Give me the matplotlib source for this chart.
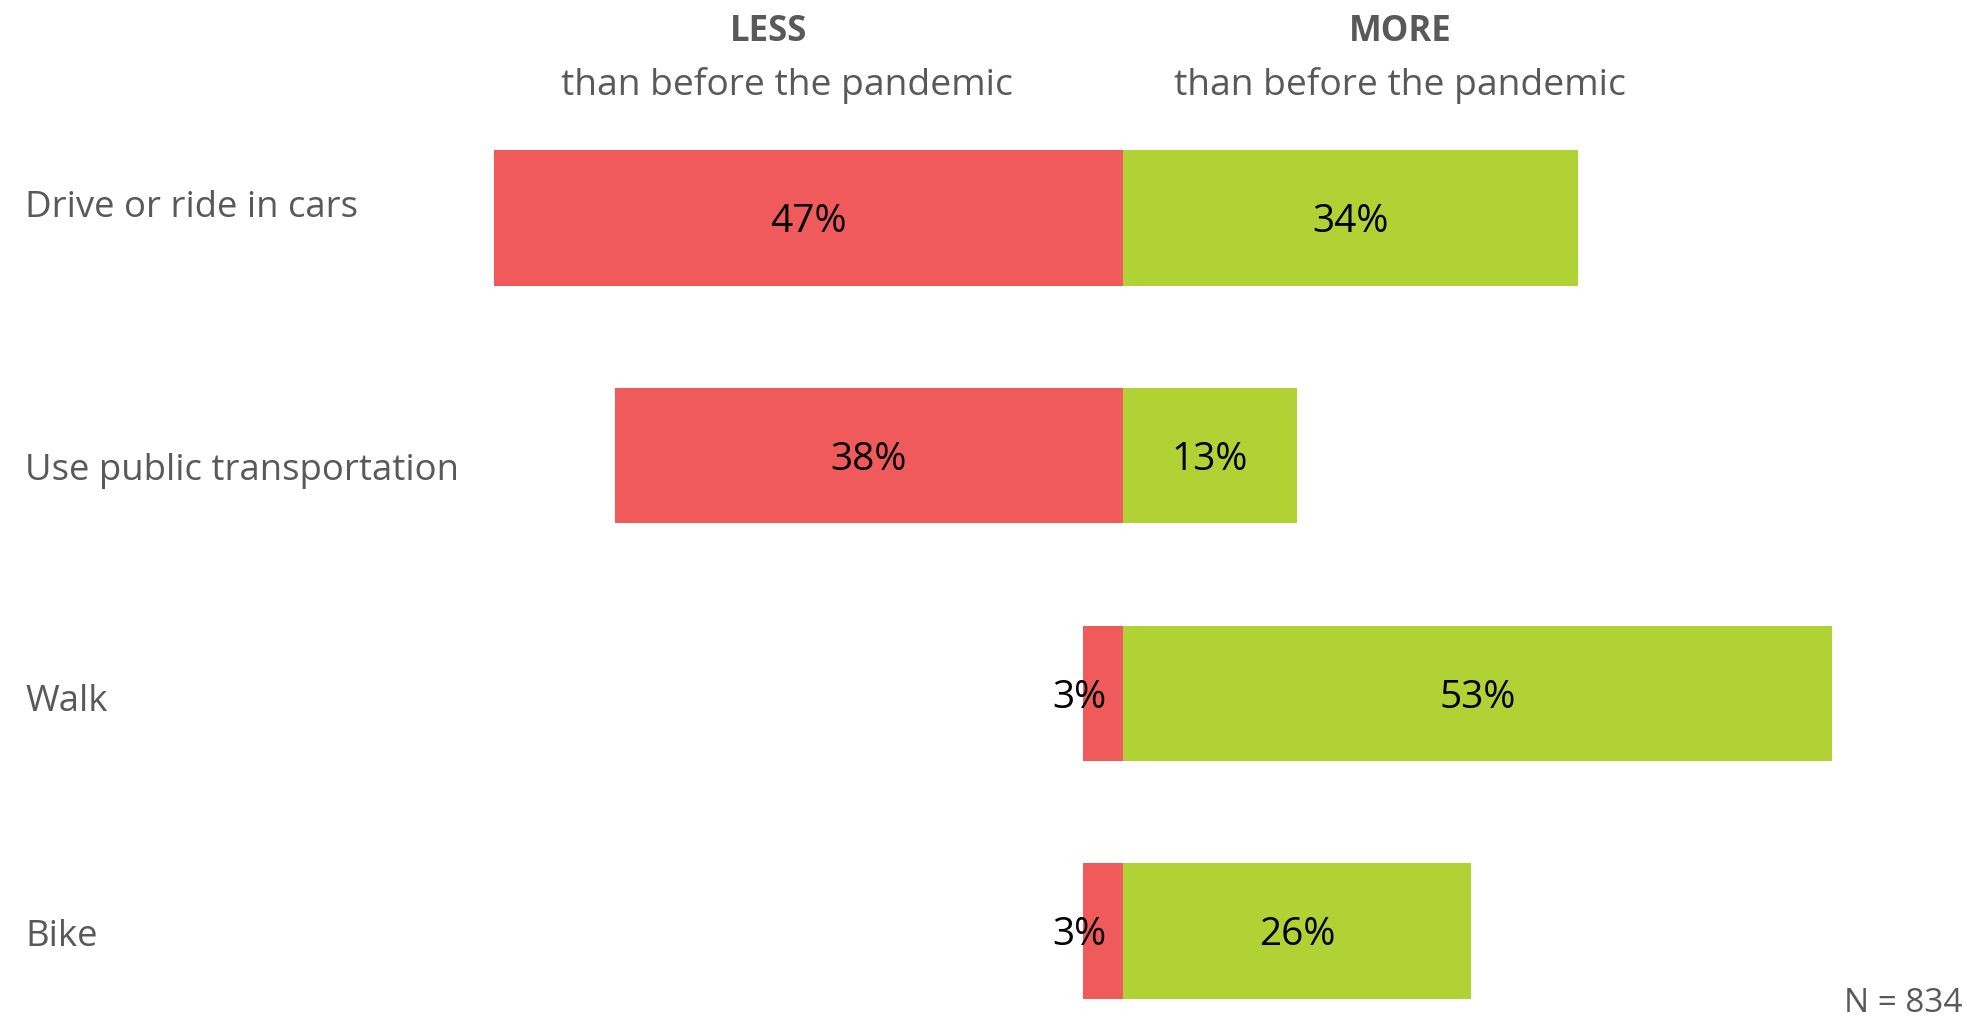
import matplotlib
matplotlib.use("Agg")
import matplotlib.pyplot as plt

categories = ["Drive or ride in cars", "Use public transportation", "Walk", "Bike"]
less_vals = [47, 38, 3, 3]
more_vals = [34, 13, 53, 26]
header_left = ("LESS", "than before the pandemic")
header_right = ("MORE", "than before the pandemic")
note = "N = 834"

# vertical offsets (pixels, downwards) of the category labels from bar centres
label_dy_px = [-10, 15, 9, 6]

RED = "#F05A5B"
GREEN = "#B1D235"
GREY = "#595959"
FONT = "Open Sans"

W, H = 1967, 1017
fig = plt.figure(figsize=(W / 100, H / 100), dpi=100)
ax = fig.add_axes([0, 0, 1, 1])

px_per_pct = 13.38
cx = 1123
ax.set_xlim(-cx / px_per_pct, (W - cx) / px_per_pct)
row_px = 237.7
y0 = 218
ax.set_ylim((H - y0) / row_px, -y0 / row_px)
ax.axis("off")

ys = list(range(len(categories)))
ax.barh(ys, [-v for v in less_vals], height=0.57, color=RED, linewidth=0)
ax.barh(ys, more_vals, height=0.57, color=GREEN, linewidth=0)

for y, cat, lv, mv, dy in zip(ys, categories, less_vals, more_vals, label_dy_px):
    ax.annotate(cat, (25 / W, y), xycoords=ax.get_yaxis_transform(),
                xytext=(0, -dy * 0.72), textcoords="offset points",
                ha="left", va="center", fontsize=26.3, color=GREY, family=FONT)
    off = -17 if lv < 6 else 0
    ax.annotate(f"{lv}%", (-lv / 2, y), xytext=(off, -3), textcoords="offset points",
                ha="center", va="center", fontsize=28, color="black", family=FONT)
    ax.annotate(f"{mv}%", (mv / 2, y), xytext=(0, -3), textcoords="offset points",
                ha="center", va="center", fontsize=28, color="black", family=FONT)

fig.text(769 / W, 1 - 32 / H, header_left[0], ha="center", va="center", fontsize=25,
         color=GREY, family=FONT, fontweight="bold")
fig.text(787 / W, 1 - 86 / H, header_left[1], ha="center", va="center", fontsize=26.8,
         color=GREY, family=FONT)
fig.text(1400 / W, 1 - 32 / H, header_right[0], ha="center", va="center", fontsize=25,
         color=GREY, family=FONT, fontweight="bold")
fig.text(1400 / W, 1 - 86 / H, header_right[1], ha="center", va="center", fontsize=26.8,
         color=GREY, family=FONT)
fig.text(1962 / W, 1 - 1003 / H, note, ha="right", va="center", fontsize=24,
         color=GREY, family=FONT)

fig.savefig("out.png", dpi=100, facecolor="white")
